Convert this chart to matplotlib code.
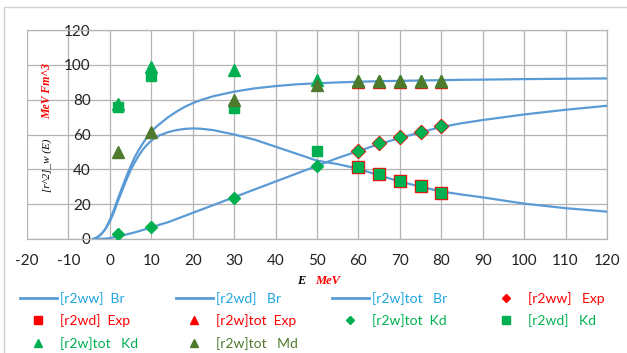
import matplotlib
matplotlib.use("Agg")
import matplotlib.pyplot as plt
from matplotlib.lines import Line2D
from matplotlib.patches import Rectangle

# ---------------- data ----------------
E_br = [-4, -3, -2, -1, 0, 1, 2, 3, 4, 5, 6, 7, 8, 9, 10, 11, 12, 14, 16, 18, 20,
        22, 25, 30, 35, 40, 45, 50, 55, 60, 65, 70, 75, 80, 85, 90, 100, 110, 120]
r2ww_br = [0, 0.03, 0.1, 0.25, 0.5, 1.0, 1.5, 2.0, 2.6, 3.2, 3.8, 4.5, 5.2, 5.9,
           6.7, 7.4, 8.2, 9.6, 11.4, 13.2, 15, 16.8, 19.5, 24, 28.5, 33, 37.5, 42,
           46.5, 50.5, 54.5, 58, 61.3, 64.3, 66.5, 68.3, 71.5, 74.2, 76.5]
r2wd_br = [0, 1, 3, 6, 10, 15.5, 22, 28, 34, 39.5, 44, 48, 51.5, 54.2, 56.5, 58.2,
           59.5, 61.3, 62.5, 63.2, 63.5, 63.3, 62.5, 60, 57, 53, 49, 45, 43, 40.3,
           36.5, 33, 30, 27.3, 25.5, 23.9, 20.3, 17.7, 15.7]
tot_br = [0, 1, 3, 6, 11, 17, 23.5, 29.8, 36, 41.7, 47, 51.3, 55, 58.5, 61.5, 64,
          66, 69.8, 73, 75.8, 78, 79.8, 82, 84.6, 86.5, 87.8, 88.8, 89.4, 89.9, 90.3,
          90.6, 90.8, 91.0, 91.2, 91.4, 91.5, 91.8, 92.0, 92.2]

E_exp = [60, 65, 70, 75, 80]
r2ww_exp = [50.7, 54.9, 58.4, 61.6, 64.9]
r2wd_exp = [41.5, 37.1, 33.5, 30.4, 26.6]
tot_exp = [90.4, 90.4, 90.2, 90.4, 90.2]

E_kd = [2, 10, 30, 50, 60, 65, 70, 75, 80]
tot_kd_diam = [2.7, 6.7, 23.4, 41.9, 50.7, 54.9, 58.4, 61.6, 64.9]
r2wd_kd = [75.7, 93.6, 75.0, 50.7, 41.5, 37.1, 33.5, 30.4, 26.6]
tot_kd_tri = [77.3, 98.9, 97.0, 91.3, 90.8, 90.8, 90.6, 90.8, 90.6]
tot_md = [50.1, 61.6, 79.8, 88.4, 90.9, 90.9, 90.8, 90.9, 90.8]

x_ticks = list(range(-20, 121, 10))
y_ticks = list(range(0, 121, 20))

labels = ["[r2ww]  Br", "[r2wd]   Br", "[r2w]tot   Br", "[r2ww]   Exp",
          "[r2wd]  Exp", "[r2w]tot  Exp", "[r2w]tot  Kd", "[r2wd]   Kd",
          "[r2w]tot   Kd", "[r2w]tot   Md"]

# ---------------- style ----------------
plt.rcParams['font.family'] = ['Lato', 'DejaVu Sans']
plt.rcParams['axes.unicode_minus'] = False
BLUE = '#5B9BD5'
RED = '#FF0000'
GREEN = '#00B050'
OLIVE = '#4E7A2E'
TXT_BLUE = '#1FA5E0'
GRID = '#B4B4B4'

W, H = 627, 353
fig = plt.figure(figsize=(W / 100, H / 100), dpi=100)
ax = fig.add_axes([27 / W, 1 - 239 / H, 580 / W, 209 / H])

# lines
for yv in (r2ww_br, r2wd_br, tot_br):
    ax.plot(E_br, yv, color=BLUE, lw=1.6, zorder=3, solid_joinstyle='round')

# experimental (red) markers
ax.plot(E_exp, r2ww_exp, ls='none', marker='D', ms=7.6, color=RED, zorder=4)
ax.plot(E_exp, r2wd_exp, ls='none', marker='s', ms=8.9, color=RED, zorder=4)
ax.plot(E_exp, tot_exp, ls='none', marker='^', ms=9.2, color=RED, zorder=4)

# calculated markers
ax.plot(E_kd, tot_kd_diam, ls='none', marker='D', ms=5.8, color=GREEN, zorder=5)
ax.plot(E_kd, r2wd_kd, ls='none', marker='s', ms=6.6, color=GREEN, zorder=5)
ax.plot(E_kd, tot_kd_tri, ls='none', marker='^', ms=8.4, color=GREEN, zorder=5)
ax.plot(E_kd, tot_md, ls='none', marker='^', ms=8.4, color=OLIVE, zorder=6)

ax.set_xlim(-20, 120)
ax.set_ylim(0, 120)
ax.set_xticks(x_ticks)
ax.set_yticks(y_ticks)
ax.grid(True, color=GRID, lw=0.9, zorder=0)
for s in ax.spines.values():
    s.set_color(GRID)
    s.set_linewidth(0.9)
ax.spines['left'].set_visible(False)
ax.spines['left'].set_position(('data', -4.3))
ax.tick_params(axis='both', length=0, labelsize=11, labelcolor='#222222')
ax.tick_params(axis='x', pad=11)
ax.tick_params(axis='y', pad=1)
for t in ax.get_yticklabels():
    t.set_zorder(7)

# axis titles
fig.text(47 / W, 1 - 165 / H, "[r^2]_w (E)", rotation=90, ha='center', va='center',
         family='Liberation Serif', style='italic', fontsize=8, color='black')
fig.text(47 / W, 1 - 91 / H, "MeV Fm^3", rotation=90, ha='center', va='center',
         family='Liberation Serif', style='italic', weight='bold', fontsize=8.5, color=RED)
fig.text(301 / W, 1 - 281 / H, "E", ha='center', va='center',
         family='Liberation Serif', style='italic', weight='bold', fontsize=9, color='black')
fig.text(315 / W, 1 - 281 / H, "MeV", ha='left', va='center',
         family='Liberation Serif', style='italic', weight='bold', fontsize=9, color=RED)

# legend (row-major like original, 4 equal-width columns)
handles = [
    Line2D([], [], color=BLUE, lw=2),
    Line2D([], [], color=BLUE, lw=2),
    Line2D([], [], color=BLUE, lw=2),
    Line2D([], [], ls='none', marker='D', ms=4.2, color=RED),
    Line2D([], [], ls='none', marker='s', ms=5.4, color=RED),
    Line2D([], [], ls='none', marker='^', ms=5.8, color=RED),
    Line2D([], [], ls='none', marker='D', ms=4.2, color=GREEN),
    Line2D([], [], ls='none', marker='s', ms=5.4, color=GREEN),
    Line2D([], [], ls='none', marker='^', ms=5.8, color=GREEN),
    Line2D([], [], ls='none', marker='^', ms=5.8, color=OLIVE),
]
txt_colors = [TXT_BLUE, TXT_BLUE, TXT_BLUE, RED, RED, RED, GREEN, GREEN, GREEN, OLIVE]
col_x = [20, 176, 332, 488]
for c in range(4):
    idx = list(range(c, 10, 4))
    leg = fig.legend([handles[i] for i in idx], [labels[i] for i in idx],
                     loc='upper left', bbox_to_anchor=(col_x[c] / W, 1 - 292 / H),
                     frameon=False, fontsize=10, handlelength=2.65, handletextpad=0.2,
                     borderpad=0, borderaxespad=0, labelspacing=0.68, numpoints=1)
    for i, t in zip(idx, leg.get_texts()):
        t.set_color(txt_colors[i])

# chart border
fig.patches.append(Rectangle((4 / W, -0.1), 1.2, 1 - 7 / H + 0.1, transform=fig.transFigure,
                             fill=False, edgecolor='#D0D0D0', lw=1))

fig.savefig("out.png", dpi=100)
